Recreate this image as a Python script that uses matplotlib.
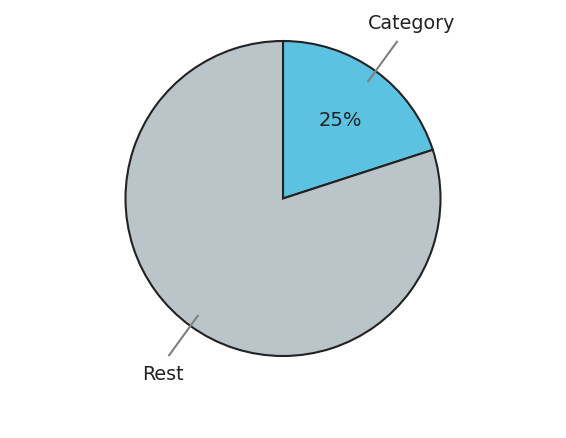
import numpy as np
import matplotlib
matplotlib.use('Agg')
import matplotlib.pyplot as plt

labels = ['Category', 'Rest']
values = [20, 80]
pct_labels = ['25%', '']
colors = ['#5bc3e1', '#bbc5c9']

fig = plt.figure(figsize=(5.66, 4.39), dpi=100)
ax = fig.add_axes([0, 0, 1, 1])

wedges, _ = ax.pie(values, colors=colors, startangle=90, counterclock=False,
                   radius=1.0,
                   wedgeprops=dict(edgecolor='#222222', linewidth=1.5))

for w, lab, pct in zip(wedges, labels, pct_labels):
    mid = np.deg2rad((w.theta1 + w.theta2) / 2)
    c, s = np.cos(mid), np.sin(mid)
    ax.plot([0.92 * c, 1.23 * c], [0.92 * s, 1.23 * s], color='#808080', lw=1.5)
    if s > 0:
        tx, ty = 1.39 * c, 1.385 * s
    else:
        tx, ty = 1.30 * c, 1.37 * s
    ax.text(tx, ty, lab, ha='center', va='center', fontsize=13.8,
            color='#222222')
    if pct:
        ax.text(0.62 * c, 0.62 * s, pct, ha='center', va='center', fontsize=14,
                color='#222222')

r_px = 157.5
ax.set_xlim(-283 / r_px, 283 / r_px)
ax.set_ylim(-(439 - 199.5) / r_px, 199.5 / r_px)
ax.set_aspect('equal')
ax.axis('off')

plt.savefig('out.png', dpi=100)
